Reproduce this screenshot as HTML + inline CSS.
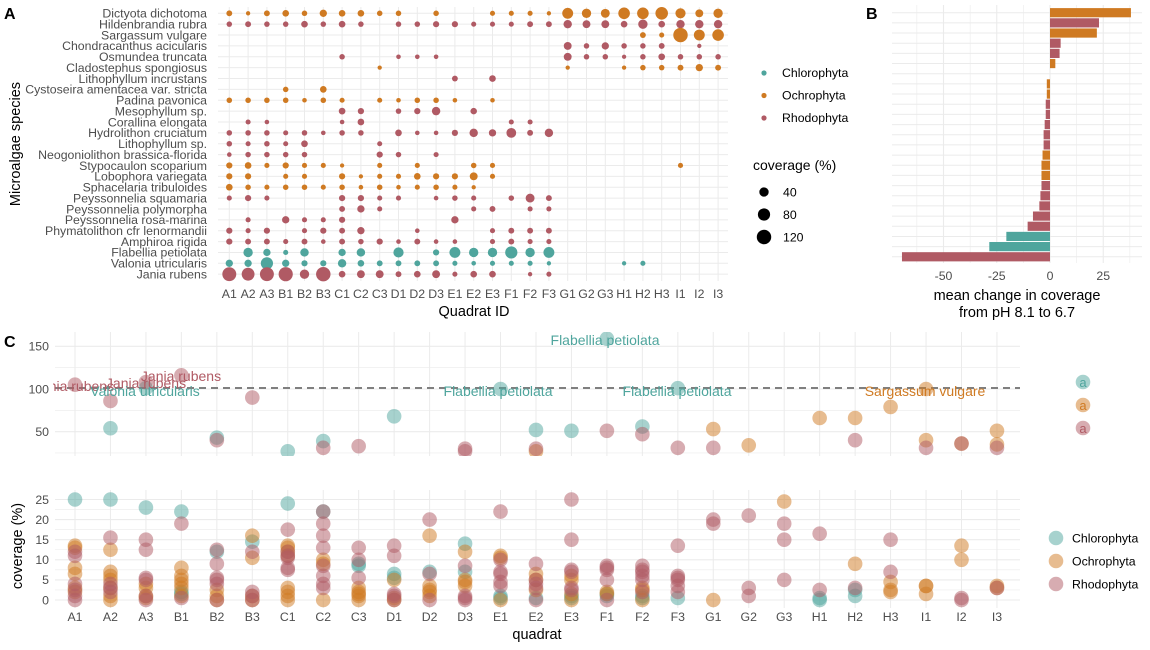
<!DOCTYPE html>
<html><head><meta charset="utf-8">
<style>
html,body{margin:0;padding:0;background:#fff;}
svg{display:block;font-family:"Liberation Sans",Arial,sans-serif;}
</style></head>
<body>
<svg id="chart" width="1150" height="650" viewBox="0 0 1150 650" xmlns="http://www.w3.org/2000/svg">
<defs>
<clipPath id="clipUp"><rect x="53" y="332" width="967" height="124"/></clipPath>
<clipPath id="clipLo"><rect x="55" y="490" width="965" height="122"/></clipPath>
</defs>
<text x="4" y="19" font-size="16" font-weight="bold">A</text>
<text x="866" y="19" font-size="16" font-weight="bold">B</text>
<text x="4" y="347" font-size="16" font-weight="bold">C</text>
<g id="gA"></g>
<g id="gB"></g>
<g id="gC"></g>
</svg>
<script>
const quadrats=["A1","A2","A3","B1","B2","B3","C1","C2","C3","D1","D2","D3","E1","E2","E3","F1","F2","F3","G1","G2","G3","H1","H2","H3","I1","I2","I3"];
const species=["Dictyota dichotoma","Hildenbrandia rubra","Sargassum vulgare","Chondracanthus acicularis","Osmundea truncata","Cladostephus spongiosus","Lithophyllum incrustans","Cystoseira amentacea var. stricta","Padina pavonica","Mesophyllum sp.","Corallina elongata","Hydrolithon cruciatum","Lithophyllum sp.","Neogoniolithon brassica-florida","Stypocaulon scoparium","Lobophora variegata","Sphacelaria tribuloides","Peyssonnelia squamaria","Peyssonnelia polymorpha","Peyssonnelia rosa-marina","Phymatolithon cfr lenormandii","Amphiroa rigida","Flabellia petiolata","Valonia utricularis","Jania rubens"];
const speciesPhylum=["O","R","O","R","R","O","R","O","O","R","R","R","R","R","O","O","O","R","R","R","R","R","C","C","R"];
const coverage=[
[10,3,10,15,8,20,15,15,8,8,0,8,0,0,6,6,6,3,60,40,35,70,70,85,50,25,40],
[8,10,8,8,15,8,15,8,0,8,8,12,12,6,6,6,10,10,30,25,25,15,40,15,30,30,30],
[0,0,0,0,0,0,0,0,0,0,0,0,0,0,0,0,0,0,0,0,0,0,10,6,120,60,70],
[0,0,0,0,0,0,0,0,0,0,0,0,0,0,0,0,0,0,25,8,20,8,8,10,0,3,0],
[0,0,0,0,0,0,8,0,0,4,4,4,0,0,0,0,0,0,25,8,8,3,8,15,8,8,8],
[0,0,0,0,0,0,0,0,3,0,0,0,0,0,0,0,0,0,3,0,0,3,8,8,10,20,10],
[0,0,0,0,0,0,0,0,0,0,0,0,10,0,15,0,0,0,0,0,0,0,0,0,0,0,0],
[0,0,0,8,0,15,0,0,0,0,0,0,0,0,0,0,0,0,0,0,0,0,0,0,0,0,0],
[8,8,8,8,4,8,6,0,6,4,8,8,4,0,4,0,0,0,0,0,0,0,0,0,0,0,0],
[0,0,0,0,0,0,15,12,0,8,12,30,0,14,0,0,0,0,0,0,0,0,0,0,0,0,0],
[0,6,4,0,0,0,4,15,0,0,0,0,0,0,0,6,6,0,0,0,0,0,0,0,0,0,0],
[8,8,8,6,8,4,8,8,0,15,4,4,12,30,20,45,10,30,0,0,0,0,0,0,0,0,0],
[8,6,8,6,15,0,0,0,6,0,0,0,0,0,0,0,0,0,0,0,0,0,0,0,0,0,0],
[4,8,8,8,8,0,0,0,12,8,0,6,0,0,0,0,0,0,0,0,0,0,0,0,0,0,0],
[12,15,6,12,6,6,3,0,6,0,6,0,0,8,6,0,0,0,0,0,0,0,0,0,6,0,0],
[12,12,0,6,6,0,12,3,6,6,15,12,12,25,6,0,0,0,0,0,0,0,0,0,0,0,0],
[15,8,6,8,8,6,8,4,8,4,6,8,6,3,0,0,0,0,0,0,0,0,0,0,0,0,0],
[6,12,6,0,0,0,12,12,6,6,0,4,8,6,0,8,35,10,0,0,0,0,0,0,0,0,0],
[0,0,0,0,0,0,10,20,6,0,0,0,0,6,10,0,6,6,0,0,0,0,0,0,0,0,0],
[0,6,0,20,6,6,12,0,0,0,0,0,20,0,0,0,0,0,0,0,0,0,0,0,0,0,0],
[12,6,12,0,6,12,10,20,0,0,4,0,0,0,6,10,10,10,0,0,0,0,0,0,0,0,0],
[12,10,10,6,10,4,10,8,12,4,10,4,4,0,6,10,6,6,0,0,0,0,0,0,0,0,0],
[0,40,20,6,30,0,20,30,0,50,0,12,60,40,40,80,40,60,0,0,0,0,0,0,0,0,0],
[20,20,80,20,12,12,30,15,10,10,10,10,6,4,6,6,6,3,0,0,0,3,6,0,0,0,0],
[110,90,110,115,40,120,15,25,25,10,15,25,6,15,15,0,3,6,0,0,0,0,0,0,0,0,0]];
const sizeLegend=[40,80,120];
// Panel B
const changeValues=[38,23,22,5,4.5,2.5,0,-1.5,-1.5,-2,-2,-2.5,-3,-3,-3.5,-4,-4,-4,-4.5,-5,-8,-10.5,-20.5,-28.5,-69.5];
const changePhylum=["O","R","O","R","R","O","R","O","O","R","R","R","R","R","O","O","O","R","R","R","R","R","C","C","R"];
const changeTicks=[-50,-25,0,25];
// Panel C values per quadrat
const chloroVals={A1:[25],A2:[25,54],A3:[23,101],B1:[22,2,1.5],B2:[12,43],B3:[14.5],C1:[24,27],C2:[22,39],C3:[9,8.5],D1:[6.5,5.5,68],D2:[7],D3:[14,7],E1:[1,0.5,100],E2:[0.5,52],E3:[1,0.5,51],F1:[1.5,1,159],F2:[1,0.5,56],F3:[0.5,101],H1:[0,0.5],H2:[2.5,1]};
const ochroVals={A1:[13.5,13,8,6.5,3,2],A2:[12.5,7,6,5,3,1,0],A3:[4,3,1,0.5],B1:[8,6,5,4,3,1],B2:[2.5,1,0],B3:[16,10.5,1,0],C1:[13.5,13,12,11,3,2,1,0],C2:[10,9,0],C3:[3,2,1.5,1,0],D1:[5,0.5,0],D2:[16,3.5,2.5,2,1],D3:[12,5,4.5,3.5],E1:[11,10.5,0],E2:[6.5,5,2.5,27],E3:[6,5,1.5,0],F1:[2,1.5],F2:[3,2.5,0],G1:[0,53],G2:[34],G3:[24.5],H1:[66],H2:[9,66],H3:[4.5,2,2.5,79],I1:[3.5,3.5,1.5,100,40],I2:[13.5,10,36],I3:[3.5,3,51,35]};
const rhodoVals={A1:[12,11,4,2.5,1,0,105],A2:[15.5,4,3,2,86],A3:[15,12.5,5.5,5,0,1,108],B1:[19,0.5,116],B2:[12.5,9,5.5,5,4,0,40],B3:[12,2,1,0,90],C1:[17.5,12,11,10.5,8,7.5],C2:[22,19,16,13,8.5,6,4,3,31],C3:[13,10,5.5,33],D1:[13.5,11,1.5,1,0],D2:[20,6.5,0],D3:[8.5,1,0.5,0,30,27],E1:[22,10,7,6.5,4.5,3.5],E2:[9,5,4,3,0,30],E3:[25,15,7.5,7,3,2.5],F1:[8.5,8,7.5,5,0,51],F2:[8.5,7.5,7,6,5,2,47],F3:[13.5,6,5.5,5,3.5,2,31],G1:[20,19,31],G2:[21,3,1],G3:[19,15,5],H1:[16.5,2.5],H2:[3,40],H3:[15,7],I1:[31],I2:[0.5,0,36],I3:[3,31]};
const upperTicks=[50,100,150];
const lowerTicks=[0,5,10,15,20,25];

const NS="http://www.w3.org/2000/svg";
const COL={C:"#4fa59d",O:"#cf7a22",R:"#b05a64"};
const PNAME={C:"Chlorophyta",O:"Ochrophyta",R:"Rhodophyta"};
function mk(tag,attrs,parent,txt){const e=document.createElementNS(NS,tag);for(const k in attrs)e.setAttribute(k,attrs[k]);if(txt!==undefined)e.textContent=txt;parent.appendChild(e);return e;}
const TICK="#4d4d4d",GRID="#ebebeb";

// ---------- Panel A ----------
const gA=document.getElementById("gA");
const axX=j=>229.3+j*18.8;
const axY=i=>13.3+i*10.87;
const rA=v=>1.2+0.55*Math.sqrt(v);
for(let i=0;i<species.length;i++){let l=mk("line",{x1:218,x2:728,y1:axY(i),y2:axY(i),stroke:GRID,"stroke-width":1},gA);

}
for(let j=0;j<quadrats.length;j++){let l=mk("line",{x1:axX(j),x2:axX(j),y1:7,y2:281,stroke:GRID,"stroke-width":1},gA);

}
species.forEach((s,i)=>{let t=mk("text",{x:207,y:axY(i)+4.3,"text-anchor":"end","font-size":12.3,fill:TICK},gA,s);


coverage[i].forEach((v,j)=>{if(v>0){let c=mk("circle",{cx:axX(j),cy:axY(i),r:rA(v),fill:COL[speciesPhylum[i]]},gA);

}});});
quadrats.forEach((q,j)=>{let t=mk("text",{x:axX(j),y:298,"text-anchor":"middle","font-size":12.3,fill:TICK},gA,q);

});
let tA=mk("text",{x:474,y:316,"text-anchor":"middle","font-size":14.5},gA,"Quadrat ID");


let tAy=mk("text",{x:0,y:0,"text-anchor":"middle","font-size":14.5,transform:"translate(20,144) rotate(-90)"},gA,"Microalgae species");


["C","O","R"].forEach((p,k)=>{let c=mk("circle",{cx:764,cy:73+k*22.5,r:2.6,fill:COL[p]},gA);


let t=mk("text",{x:782,y:77+k*22.5,"font-size":12.3},gA,PNAME[p]);

});
let ts=mk("text",{x:753,y:170,"font-size":14},gA,"coverage (%)");


sizeLegend.forEach((v,k)=>{let c=mk("circle",{cx:764,cy:192+k*22.5,r:rA(v),fill:"#000"},gA);


let t=mk("text",{x:783,y:196.5+k*22.5,"font-size":12.3},gA,String(v));

});

// ---------- Panel B ----------
const gB=document.getElementById("gB");
const bx=v=>1050+v*2.13;
const by=i=>12.7+i*10.17;
for(let v=-62.5;v<=37.5;v+=12.5){let l=mk("line",{x1:bx(v),x2:bx(v),y1:5,y2:263,stroke:GRID,"stroke-width":Number.isInteger(v/25)?1.1:0.6},gB);

}
changeValues.forEach((v,i)=>{let l=mk("line",{x1:892,x2:1142,y1:by(i),y2:by(i),stroke:GRID,"stroke-width":1},gB);

});
changeValues.forEach((v,i)=>{const x0=Math.min(bx(0),bx(v)),w=Math.abs(bx(v)-bx(0));
let r=mk("rect",{x:x0,y:by(i)-4.6,width:w,height:9.2,fill:COL[changePhylum[i]]},gB);

});
changeTicks.forEach(v=>{let t=mk("text",{x:bx(v),y:280,"text-anchor":"middle","font-size":12.3,fill:TICK},gB,String(v));

});
let tb1=mk("text",{x:1017,y:300,"text-anchor":"middle","font-size":14.5},gB,"mean change in coverage");


let tb2=mk("text",{x:1017,y:317,"text-anchor":"middle","font-size":14.5},gB,"from pH 8.1 to 6.7");



// ---------- Panel C ----------
const gC=document.getElementById("gC");
const cx=j=>75+j*35.46;
const uy=v=>389-(v-100)*0.853;
const ly=v=>600-v*4.02;
[25,50,75,100,125,150].forEach(v=>{let l=mk("line",{x1:55,x2:1020,y1:uy(v),y2:uy(v),stroke:GRID,"stroke-width":v%50===0?1.1:0.6},gC);

});
for(let v=0;v<=25;v+=2.5){let l=mk("line",{x1:55,x2:1020,y1:ly(v),y2:ly(v),stroke:GRID,"stroke-width":v%5===0?1.1:0.6},gC);

}
quadrats.forEach((q,j)=>{let l=mk("line",{x1:cx(j),x2:cx(j),y1:332,y2:456,stroke:GRID,"stroke-width":1},gC);


let l2=mk("line",{x1:cx(j),x2:cx(j),y1:490,y2:608,stroke:GRID,"stroke-width":1},gC);

});
let dl=mk("line",{x1:55,x2:1020,y1:uy(100)-1,y2:uy(100)-1,stroke:"#7f7f7f","stroke-width":2,"stroke-dasharray":"7,5"},gC);


const gUp=mk("g",{"clip-path":"url(#clipUp)"},gC);


const gLo=mk("g",{"clip-path":"url(#clipLo)"},gC);


[["C",chloroVals],["O",ochroVals],["R",rhodoVals]].forEach(([p,obj])=>{
 quadrats.forEach((q,j)=>{(obj[q]||[]).forEach(v=>{
  if(v>=26){let c=mk("circle",{cx:cx(j),cy:uy(v),r:7.3,fill:COL[p],"fill-opacity":0.5},gUp);
  
  }
  else{let c=mk("circle",{cx:cx(j),cy:ly(v),r:7.3,fill:COL[p],"fill-opacity":0.5},gLo);
  
  }
 });});});
const labels=[["Jania rubens","R",74,391],["Jania rubens","R",146,388],["Jania rubens","R",181,381],["Valonia utricularis","C",145,396],["Flabellia petiolata","C",498,396],["Flabellia petiolata","C",605,345],["Flabellia petiolata","C",677,396],["Sargassum vulgare","O",925,396]];
const gLab=mk("g",{"clip-path":"url(#clipUp)"},gC);


labels.forEach(([s,p,x,y])=>{let t=mk("text",{x:x,y:y,"text-anchor":"middle","font-size":14,fill:COL[p]},gLab,s);

});
upperTicks.forEach(v=>{let t=mk("text",{x:49,y:uy(v)+4.3,"text-anchor":"end","font-size":12.3,fill:TICK},gC,String(v));

});
lowerTicks.forEach(v=>{let t=mk("text",{x:49,y:ly(v)+4.3,"text-anchor":"end","font-size":12.3,fill:TICK},gC,String(v));

});
quadrats.forEach((q,j)=>{let t=mk("text",{x:cx(j),y:621,"text-anchor":"middle","font-size":12.3,fill:TICK},gC,q);

});
let tcx=mk("text",{x:537,y:639,"text-anchor":"middle","font-size":14.5},gC,"quadrat");


let tcy=mk("text",{x:0,y:0,"text-anchor":"middle","font-size":14.5,transform:"translate(22,546) rotate(-90)"},gC,"coverage (%)");


["C","O","R"].forEach((p,k)=>{let c=mk("circle",{cx:1083,cy:382+k*23,r:7.3,fill:COL[p],"fill-opacity":0.5},gC);


let t=mk("text",{x:1083,y:387+k*23,"text-anchor":"middle","font-size":13,fill:COL[p]},gC,"a");


let c2=mk("circle",{cx:1056,cy:538+k*23,r:7.3,fill:COL[p],"fill-opacity":0.5},gC);


let t2=mk("text",{x:1072,y:542.5+k*23,"font-size":12.3},gC,PNAME[p]);

});
</script>
</body></html>
